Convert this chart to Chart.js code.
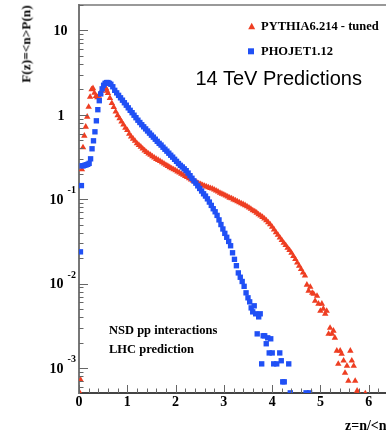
<!DOCTYPE html>
<html>
<head>
<meta charset="utf-8">
<script src="https://cdn.jsdelivr.net/npm/chart.js@4.4.0/dist/chart.umd.min.js"></script>
<style>
html, body { margin: 0; padding: 0; background: #fff; overflow: hidden; width: 386px; height: 436px; }
#wrap { position: relative; width: 386px; height: 436px; overflow: hidden; }
canvas { position: absolute; left: 0; top: 0; }
.t { position: absolute; white-space: nowrap; line-height: 1; color: #000; }
.serif { font-family: 'Liberation Serif', 'Times New Roman', serif; font-weight: bold; }
.sans { font-family: 'Liberation Sans', Arial, sans-serif; }
</style>
</head>
<body>
<div id="wrap">
  <canvas id="chart" width="400" height="436"></canvas>
  <div class="t serif" style="left:25.5px;top:43.5px;font-size:13.3px;transform:translate(-50%,-50%) rotate(-90deg)">F(z)=&lt;n&gt;P(n)</div>
  <div class="t serif" style="left:261px;top:19.5px;font-size:12.5px">PYTHIA6.214 - tuned</div>
  <div class="t serif" style="left:261px;top:44.5px;font-size:12.5px">PHOJET1.12</div>
  <div class="t sans" style="left:195.5px;top:68.4px;font-size:20px">14 TeV Predictions</div>
  <div class="t serif" style="left:109px;top:324.3px;font-size:12.5px">NSD pp interactions</div>
  <div class="t serif" style="left:109px;top:342.8px;font-size:12.5px">LHC prediction</div>
  <div class="t serif" style="left:345px;top:419.3px;font-size:14px">z=n/&lt;n&gt;</div>
</div>
<script>
// PYTHIA6.214 - tuned (red triangles)
const zPythia = [0.015, 0.035, 0.06, 0.083, 0.11, 0.14, 0.17, 0.20, 0.23, 0.26, 0.29, 0.32, 0.35, 0.38, 0.41, 0.44, 0.47, 0.50, 0.53, 0.56, 0.58, 0.60,
  0.64, 0.68, 0.72, 0.76, 0.80, 0.84, 0.88, 0.92, 0.96, 1.00, 1.04, 1.08, 1.12, 1.16, 1.20, 1.24, 1.28, 1.32, 1.36, 1.40, 1.44, 1.48, 1.52, 1.56,
  1.60, 1.64, 1.68, 1.72, 1.76, 1.80, 1.84, 1.88, 1.92, 1.96, 2.00, 2.04, 2.08, 2.12, 2.16, 2.20, 2.24, 2.28, 2.32, 2.36, 2.40, 2.44, 2.48, 2.52,
  2.56, 2.60, 2.64, 2.68, 2.72, 2.76, 2.80, 2.84, 2.88, 2.92, 2.96, 3.00, 3.04, 3.08, 3.12, 3.16, 3.20, 3.24, 3.28, 3.32, 3.36, 3.40, 3.44, 3.48,
  3.52, 3.56, 3.60, 3.64, 3.68, 3.72, 3.76, 3.80, 3.84, 3.88, 3.92, 3.96, 4.00, 4.04, 4.08, 4.12, 4.16, 4.20, 4.24, 4.28, 4.32, 4.36, 4.40, 4.44,
  4.48, 4.52, 4.56, 4.60, 4.64, 4.68,
  4.72, 4.755, 4.79, 4.83, 4.86, 4.89, 4.93, 4.96, 5.00, 5.03, 5.06, 5.10, 5.13, 5.17, 5.20, 5.24, 5.27, 5.30, 5.34, 5.37, 5.41, 5.44, 5.48, 5.51,
  5.55, 5.58, 5.62, 5.65, 5.69, 5.72, 5.76, 5.79, 5.93];
const fPythia = [5.1e-4, 7.2e-4, 0.225, 0.41, 0.564, 0.721, 0.947, 1.24, 1.63, 2.00, 2.06, 1.82, 1.66, 1.61, 1.68, 1.80, 1.92, 2.03, 2.10, 2.06, 1.92, 1.80,
  1.58, 1.37, 1.23, 1.09, 0.987, 0.904, 0.828, 0.763, 0.701, 0.657, 0.596, 0.553, 0.520, 0.490, 0.459, 0.438, 0.418, 0.396, 0.377, 0.361, 0.347, 0.334, 0.321, 0.310,
  0.299, 0.291, 0.282, 0.273, 0.264, 0.255, 0.247, 0.239, 0.232, 0.225, 0.219, 0.212, 0.206, 0.199, 0.194, 0.188, 0.182, 0.176, 0.171, 0.166, 0.162, 0.158, 0.154, 0.151,
  0.147, 0.144, 0.141, 0.138, 0.135, 0.133, 0.130, 0.126, 0.123, 0.119, 0.116, 0.113, 0.110, 0.107, 0.104, 0.102, 0.0991, 0.0966, 0.0940, 0.0917, 0.0891, 0.0871, 0.0847, 0.0822,
  0.0794, 0.0766, 0.0738, 0.0716, 0.0690, 0.0662, 0.0640, 0.0615, 0.0589, 0.0561, 0.0532, 0.0502, 0.0469, 0.0437, 0.0404, 0.0377, 0.0350, 0.0327, 0.0304, 0.0285, 0.0265, 0.0249, 0.0231, 0.0212,
  0.0195, 0.0177, 0.0162, 0.0148, 0.0135, 0.0124,
  9.68e-3, 8.22e-3, 9.16e-3, 7.78e-3, 7.57e-3, 6.25e-3, 7.16e-3, 5.77e-3, 4.76e-3, 5.77e-3, 5.03e-3, 4.39e-3, 4.76e-3, 2.54e-3, 2.99e-3, 2.54e-3, 2.76e-3, 2.28e-3, 1.60e-3, 1.12e-3, 1.60e-3, 1.47e-3, 1.22e-3, 8.77e-4,
  1.06e-3, 7.05e-4, 1.60e-3, 1.22e-3, 1.06e-3, 7.05e-4, 5.37e-4, 5.08e-4, 5.0e-4];

// PHOJET1.12 (blue squares)
const zPhojet = [0.03, 0.05, 0.065, 0.09, 0.12, 0.15, 0.18, 0.21, 0.24, 0.27, 0.30, 0.33, 0.36, 0.39, 0.42, 0.45, 0.48, 0.51, 0.54, 0.57, 0.60, 0.63, 0.66, 0.70,
  0.74, 0.78, 0.82, 0.86, 0.90, 0.94, 0.98, 1.02, 1.06, 1.10, 1.14, 1.18, 1.22, 1.26, 1.30, 1.34, 1.38, 1.42, 1.46, 1.50, 1.54, 1.58, 1.62, 1.66,
  1.70, 1.74, 1.78, 1.82, 1.86, 1.90, 1.94, 1.98, 2.02, 2.06, 2.10, 2.14, 2.18, 2.22, 2.26, 2.30, 2.34, 2.38, 2.42, 2.46, 2.50, 2.54, 2.58, 2.62,
  2.66, 2.70, 2.74, 2.78, 2.82, 2.86, 2.90, 2.94, 2.98, 3.02, 3.06, 3.10, 3.14, 3.18, 3.22, 3.26, 3.30, 3.34, 3.38, 3.42, 3.46, 3.50,
  3.535, 3.566, 3.598, 3.629, 3.66, 3.691, 3.722, 3.753, 3.784, 3.815, 3.846, 3.878, 3.909, 3.94, 3.971, 4.002, 4.033, 4.095, 4.158, 4.189,
  4.22, 4.251, 4.344, 4.376, 4.703, 4.776];
const fPhojet = [0.0238, 0.145, 0.249, 0.249, 0.252, 0.256, 0.259, 0.266, 0.301, 0.396, 0.492, 0.629, 0.849, 1.15, 1.47, 1.77, 2.03, 2.24, 2.36, 2.41, 2.41, 2.36, 2.30, 2.15,
  1.95, 1.82, 1.70, 1.59, 1.49, 1.39, 1.30, 1.21, 1.13, 1.06, 0.989, 0.924, 0.863, 0.811, 0.763, 0.721, 0.681, 0.643, 0.607, 0.574, 0.544, 0.514, 0.485, 0.459,
  0.438, 0.413, 0.391, 0.371, 0.351, 0.332, 0.315, 0.297, 0.281, 0.265, 0.252, 0.241, 0.229, 0.218, 0.204, 0.190, 0.177, 0.165, 0.155, 0.144, 0.134, 0.125, 0.116, 0.109,
  0.101, 0.0925, 0.0845, 0.0771, 0.0710, 0.0643, 0.0569, 0.0501, 0.0444, 0.0394, 0.0354, 0.0316, 0.0281, 0.0232, 0.0194, 0.0163, 0.0134, 0.0119, 0.0106, 9.29e-3, 7.78e-3, 6.79e-3,
  6.08e-3, 5.16e-3, 4.63e-3, 5.46e-3, 4.39e-3, 2.54e-3, 4.04e-3, 4.39e-3, 1.12e-3, 2.41e-3, 2.41e-3, 1.94e-3, 2.28e-3, 1.51e-3, 2.22e-3, 1.51e-3, 1.12e-3, 1.12e-3, 1.51e-3, 1.22e-3,
  6.86e-4, 6.86e-4, 1.12e-3, 5.08e-4, 5.08e-4, 5.08e-4];

// axis tick labels
const xTickValues = [0, 1, 2, 3, 4, 5, 6];
const yTickValues = [10, 1, 0.1, 0.01, 0.001];
const yTickBase = ['10', '1', '10', '10', '10'];
const yTickExp = ['', '', '-1', '-2', '-3'];

const RED = '#ee3e22';
const BLUE = '#2050f5';

const axisDecor = {
    id: 'axisDecor',
    afterDraw(chart) {
        const ctx = chart.ctx;
        const a = chart.chartArea;
        const xs = chart.scales.x;
        const ys = chart.scales.y;
        ctx.save();

        // top frame line
        ctx.strokeStyle = '#777';
        ctx.lineWidth = 1.5;
        ctx.beginPath();
        ctx.moveTo(a.left, a.top);
        ctx.lineTo(a.right + 5, a.top);
        ctx.stroke();

        // ticks on the inside
        ctx.strokeStyle = '#666';
        ctx.lineWidth = 1;
        for (let e = -4; e <= 1; e++) {
            for (let m = 1; m <= 9; m++) {
                const v = m * Math.pow(10, e);
                if (v < ys.min || v > ys.max) continue;
                const y = Math.round(ys.getPixelForValue(v)) + 0.5;
                ctx.beginPath();
                ctx.moveTo(a.left, y);
                ctx.lineTo(a.left + (m === 1 ? 9 : 4.5), y);
                ctx.stroke();
            }
        }
        for (let k = 0; k <= 32; k++) {
            const x = Math.round(xs.getPixelForValue(k / 5)) + 0.5;
            ctx.beginPath();
            ctx.moveTo(x, a.bottom);
            ctx.lineTo(x, a.bottom - (k % 5 === 0 ? 8 : 4.5));
            ctx.stroke();
        }

        // tick labels
        ctx.fillStyle = '#000';
        ctx.textBaseline = 'alphabetic';
        ctx.font = "bold 14px 'Liberation Serif'";
        ctx.textAlign = 'center';
        xTickValues.forEach(v => {
            ctx.fillText(String(v), xs.getPixelForValue(v), a.bottom + 12.8);
        });
        yTickValues.forEach((v, i) => {
            const y = ys.getPixelForValue(v);
            ctx.font = "bold 14px 'Liberation Serif'";
            ctx.textAlign = 'center';
            if (yTickExp[i]) {
                ctx.fillText(yTickBase[i], 56.6, y + 4.7);
                ctx.font = "bold 10px 'Liberation Serif'";
                ctx.textAlign = 'left';
                ctx.fillText(yTickExp[i], 67.6, y - 6);
            } else {
                ctx.fillText(yTickBase[i], yTickBase[i] === '1' ? 61 : 60.6, y + 4.7);
            }
        });

        // legend symbols
        ctx.fillStyle = RED;
        ctx.beginPath();
        ctx.moveTo(251.7, 22.7);
        ctx.lineTo(255.2, 29.3);
        ctx.lineTo(248.2, 29.3);
        ctx.closePath();
        ctx.fill();
        ctx.fillStyle = BLUE;
        ctx.fillRect(248, 48.3, 6, 6);

        ctx.restore();
    }
};

new Chart(document.getElementById('chart'), {
    type: 'scatter',
    data: {
        datasets: [
            {
                label: 'PHOJET1.12',
                data: zPhojet.map((z, i) => ({ x: z, y: fPhojet[i] })),
                pointStyle: 'rect',
                pointRadius: 3.8,
                backgroundColor: BLUE,
                borderWidth: 0,
                pointBorderWidth: 0,
                clip: 0
            },
            {
                label: 'PYTHIA6.214 - tuned',
                data: zPythia.map((z, i) => ({ x: z, y: fPythia[i] })),
                pointStyle: 'triangle',
                pointRadius: 3.7,
                backgroundColor: RED,
                borderWidth: 0,
                pointBorderWidth: 0,
                clip: 0
            }
        ]
    },
    options: {
        responsive: false,
        animation: false,
        events: [],
        layout: { padding: { left: 79, top: 5, right: 12, bottom: 43 } },
        plugins: { legend: { display: false }, tooltip: { enabled: false } },
        scales: {
            x: {
                type: 'linear',
                min: 0,
                max: 6.4,
                bounds: 'data',
                grid: { display: false },
                ticks: { display: false },
                border: { display: true, color: '#444', width: 2 },
                afterFit(s) { s.height = 0; }
            },
            y: {
                type: 'logarithmic',
                min: 5.06e-4,
                max: 20,
                bounds: 'data',
                grid: { display: false },
                ticks: { display: false },
                border: { display: true, color: '#777', width: 2 },
                afterFit(s) { s.width = 0; }
            }
        }
    },
    plugins: [axisDecor]
});
</script>
</body>
</html>
